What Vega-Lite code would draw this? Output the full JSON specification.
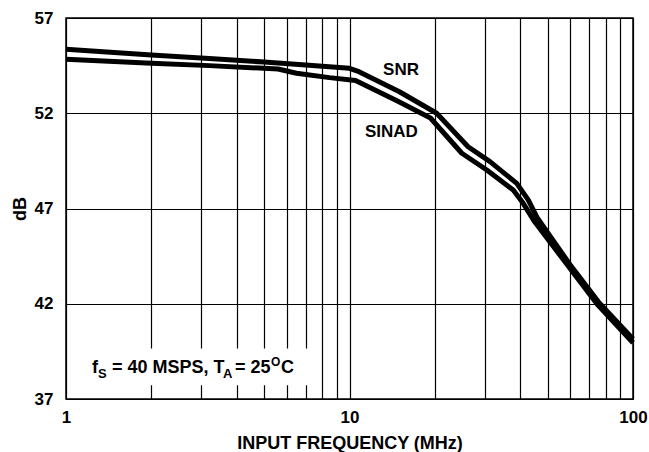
{
  "$schema": "https://vega.github.io/schema/vega-lite/v6.json",
  "autosize": {"type": "none"},
  "padding": {"left": 66, "top": 18, "right": 16, "bottom": 53},
  "width": 567,
  "height": 381,
  "background": "white",
  "config": {
    "font": "Liberation Sans",
    "view": {"stroke": "black", "strokeWidth": 1.5},
    "axis": {
      "labelFont": "Liberation Sans",
      "labelFontWeight": "bold",
      "labelFontSize": 17,
      "labelColor": "black",
      "titleFont": "Liberation Sans",
      "titleFontWeight": "bold",
      "titleFontSize": 18,
      "titleColor": "black",
      "grid": true,
      "gridColor": "black",
      "gridOpacity": 1,
      "gridWidth": 1.2,
      "ticks": false,
      "tickSize": 0,
      "domain": false
    },
    "text": {"font": "Liberation Sans", "fontWeight": "bold", "color": "black"}
  },
  "datasets": {
    "curves": [
      {"series": "SNR", "freq": 1, "db": 55.36},
      {"series": "SNR", "freq": 2, "db": 55.06},
      {"series": "SNR", "freq": 3.2, "db": 54.87},
      {"series": "SNR", "freq": 5, "db": 54.69},
      {"series": "SNR", "freq": 7, "db": 54.53},
      {"series": "SNR", "freq": 10, "db": 54.36},
      {"series": "SNR", "freq": 10.8, "db": 54.18},
      {"series": "SNR", "freq": 15, "db": 53.13},
      {"series": "SNR", "freq": 20.3, "db": 52.0},
      {"series": "SNR", "freq": 26.2, "db": 50.24},
      {"series": "SNR", "freq": 31.3, "db": 49.46},
      {"series": "SNR", "freq": 38.9, "db": 48.32},
      {"series": "SNR", "freq": 42.7, "db": 47.45},
      {"series": "SNR", "freq": 46, "db": 46.5},
      {"series": "SNR", "freq": 60, "db": 44.05},
      {"series": "SNR", "freq": 75.5, "db": 42.1},
      {"series": "SNR", "freq": 100, "db": 40.15},
      {"series": "SINAD", "freq": 1, "db": 54.83},
      {"series": "SINAD", "freq": 2, "db": 54.62},
      {"series": "SINAD", "freq": 3.2, "db": 54.5},
      {"series": "SINAD", "freq": 5, "db": 54.36},
      {"series": "SINAD", "freq": 5.6, "db": 54.32},
      {"series": "SINAD", "freq": 6.5, "db": 54.1},
      {"series": "SINAD", "freq": 8.5, "db": 53.87},
      {"series": "SINAD", "freq": 10.5, "db": 53.72},
      {"series": "SINAD", "freq": 14.7, "db": 52.65},
      {"series": "SINAD", "freq": 19.3, "db": 51.75},
      {"series": "SINAD", "freq": 24.9, "db": 49.9},
      {"series": "SINAD", "freq": 30.5, "db": 49.02},
      {"series": "SINAD", "freq": 37.8, "db": 47.97},
      {"series": "SINAD", "freq": 41, "db": 47.27},
      {"series": "SINAD", "freq": 45, "db": 46.3},
      {"series": "SINAD", "freq": 60, "db": 43.85},
      {"series": "SINAD", "freq": 75.5, "db": 41.9},
      {"series": "SINAD", "freq": 100, "db": 39.95}
    ],
    "one": [{}]
  },
  "layer": [
    {
      "data": {"name": "one"},
      "mark": {"type": "rect", "color": "white"},
      "encoding": {
        "x": {"datum": 1.15, "type": "quantitative"},
        "x2": {"datum": 7.6},
        "y": {"datum": 37.72, "type": "quantitative"},
        "y2": {"datum": 39.65}
      }
    },
    {
      "data": {"name": "curves"},
      "mark": {"type": "line", "color": "black", "strokeWidth": 5, "strokeJoin": "round"},
      "encoding": {
        "x": {
          "field": "freq",
          "type": "quantitative",
          "scale": {"type": "log", "domain": [1, 100], "nice": false},
          "axis": {
            "title": "INPUT FREQUENCY (MHz)",
            "values": [1, 2, 3, 4, 5, 6, 7, 8, 9, 10, 20, 30, 40, 50, 60, 70, 80, 90, 100],
            "labelExpr": "datum.value == 1 || datum.value == 10 || datum.value == 100 ? '' + datum.value : ''",
            "labelOverlap": false,
            "labelFlush": false,
            "labelPadding": 10,
            "titleY": 49.5,
            "titleBaseline": "alphabetic"
          }
        },
        "y": {
          "field": "db",
          "type": "quantitative",
          "scale": {"domain": [37, 57], "nice": false, "zero": false},
          "axis": {
            "title": "dB",
            "values": [37, 42, 47, 52, 57],
            "labelPadding": 13,
            "titleX": -37,
            "titleY": 190.5,
            "titleAngle": 270,
            "titleAlign": "center",
            "titleBaseline": "bottom"
          }
        },
        "detail": {"field": "series"}
      }
    },
    {
      "data": {"name": "one"},
      "mark": {"type": "text", "text": "SNR", "fontSize": 17, "align": "center", "baseline": "middle"},
      "encoding": {"x": {"datum": 15.2, "type": "quantitative"}, "y": {"datum": 54.27, "type": "quantitative"}}
    },
    {
      "data": {"name": "one"},
      "mark": {"type": "text", "text": "SINAD", "fontSize": 17, "align": "center", "baseline": "middle"},
      "encoding": {"x": {"datum": 14.06, "type": "quantitative"}, "y": {"datum": 50.99, "type": "quantitative"}}
    },
    {
      "data": {"name": "one"},
      "mark": {"type": "text", "text": "f", "fontSize": 18, "align": "left", "baseline": "alphabetic", "dx": 0},
      "encoding": {"x": {"datum": 1.235, "type": "quantitative"}, "y": {"datum": 38.36, "type": "quantitative"}}
    },
    {
      "data": {"name": "one"},
      "mark": {"type": "text", "text": "S", "fontSize": 13, "align": "left", "baseline": "alphabetic", "dx": 6, "dy": 5},
      "encoding": {"x": {"datum": 1.235, "type": "quantitative"}, "y": {"datum": 38.36, "type": "quantitative"}}
    },
    {
      "data": {"name": "one"},
      "mark": {"type": "text", "text": "= 40 MSPS, T", "fontSize": 18, "align": "left", "baseline": "alphabetic", "dx": 20},
      "encoding": {"x": {"datum": 1.235, "type": "quantitative"}, "y": {"datum": 38.36, "type": "quantitative"}}
    },
    {
      "data": {"name": "one"},
      "mark": {"type": "text", "text": "A", "fontSize": 13, "align": "left", "baseline": "alphabetic", "dx": 131, "dy": 5},
      "encoding": {"x": {"datum": 1.235, "type": "quantitative"}, "y": {"datum": 38.36, "type": "quantitative"}}
    },
    {
      "data": {"name": "one"},
      "mark": {"type": "text", "text": "= 25", "fontSize": 18, "align": "left", "baseline": "alphabetic", "dx": 143},
      "encoding": {"x": {"datum": 1.235, "type": "quantitative"}, "y": {"datum": 38.36, "type": "quantitative"}}
    },
    {
      "data": {"name": "one"},
      "mark": {"type": "text", "text": "O", "fontSize": 12, "align": "left", "baseline": "alphabetic", "dx": 179, "dy": -7},
      "encoding": {"x": {"datum": 1.235, "type": "quantitative"}, "y": {"datum": 38.36, "type": "quantitative"}}
    },
    {
      "data": {"name": "one"},
      "mark": {"type": "text", "text": "C", "fontSize": 18, "align": "left", "baseline": "alphabetic", "dx": 189},
      "encoding": {"x": {"datum": 1.235, "type": "quantitative"}, "y": {"datum": 38.36, "type": "quantitative"}}
    }
  ]
}
